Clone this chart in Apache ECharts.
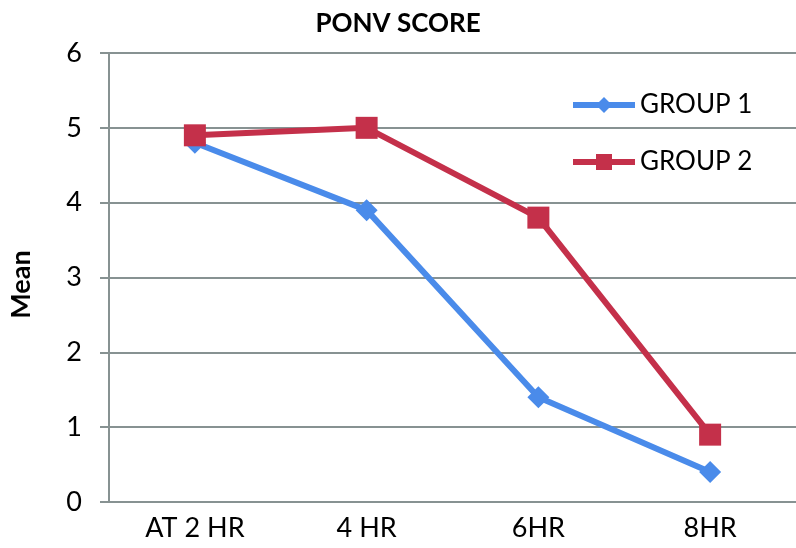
<!DOCTYPE html>
<html><head><meta charset="utf-8">
<script src="https://cdn.jsdelivr.net/npm/echarts@6/dist/echarts.min.js"></script>
<style>html,body{margin:0;padding:0;background:#fff}#c{width:796px;height:548px}</style>
</head><body><div id="c"></div>
<script>
const categories = ['AT 2 HR', '4 HR', '6HR', '8HR'];
const group1 = [4.8, 3.9, 1.4, 0.4];
const group2 = [4.9, 5.0, 3.8, 0.9];
const seriesNames = ['GROUP 1', 'GROUP 2'];
const FONT = 'Lato';
const chart = echarts.init(document.getElementById('c'));
chart.setOption({
  animation: false,
  backgroundColor: '#fff',
  title: { text: 'PONV SCORE', left: 'center', top: 6,
    textStyle: { fontFamily: FONT, fontWeight: 'bold', fontSize: 26, color: '#000' } },
  legend: {
    orient: 'vertical', left: 565, top: 87, itemGap: 31, itemWidth: 62, itemHeight: 20,
    textStyle: { fontFamily: FONT, fontSize: 26, color: '#000' },
    lineStyle: { width: 6 },
    data: seriesNames
  },
  grid: { left: 100, right: 0, top: 53, bottom: 46 },
  xAxis: {
    type: 'category', data: categories, boundaryGap: true,
    axisLine: { show: false }, axisTick: { show: false },
    axisLabel: { fontFamily: FONT, fontSize: 27, color: '#000', margin: 13 }
  },
  yAxis: {
    type: 'value', min: 0, max: 6, interval: 1,
    name: 'Mean', nameLocation: 'middle', nameGap: 74,
    nameTextStyle: { fontFamily: FONT, fontWeight: 'bold', fontSize: 27, color: '#000', padding: [0, 14, 0, 0] },
    axisLine: { show: true, lineStyle: { color: '#879292', width: 2 } },
    axisTick: { show: true, length: 9, lineStyle: { color: '#879292', width: 2 } },
    splitLine: { lineStyle: { color: '#879292', width: 2 } },
    axisLabel: { fontFamily: FONT, fontSize: 27, color: '#000', margin: 27 }
  },
  series: [
    { name: seriesNames[0], type: 'line', data: group1, symbol: 'diamond', symbolSize: 22,
      color: '#4A8BEA', lineStyle: { width: 6 }, itemStyle: { color: '#4A8BEA' }, z: 2 },
    { name: seriesNames[1], type: 'line', data: group2, symbol: 'rect', symbolSize: 22,
      color: '#C4304A', lineStyle: { width: 6 }, itemStyle: { color: '#C4304A' }, z: 3 }
  ]
});
</script></body></html>
